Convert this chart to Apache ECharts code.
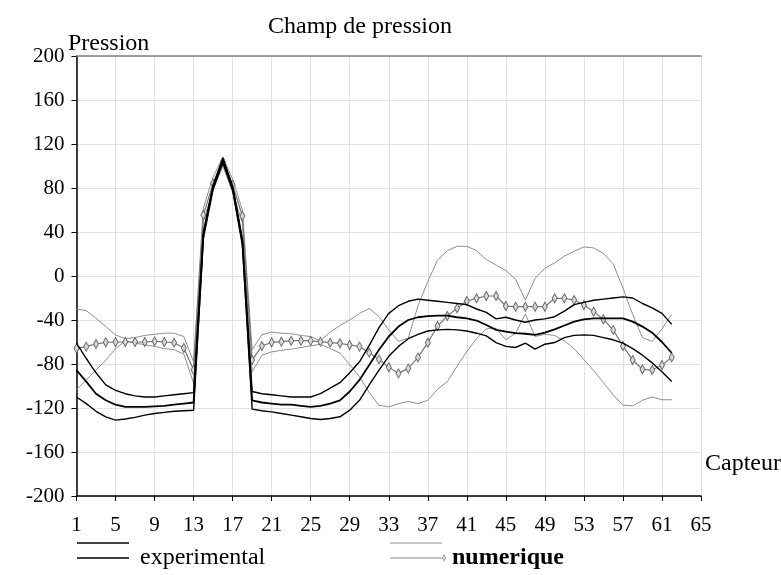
<!DOCTYPE html>
<html>
<head>
<meta charset="utf-8">
<script src="https://cdn.jsdelivr.net/npm/echarts@6/dist/echarts.min.js"></script>
<style>html,body{margin:0;padding:0;background:#fff}#c{width:781px;height:575px}</style>
</head>
<body>
<div id="c"></div>
<script>
const categories = ['1','2','3','4','5','6','7','8','9','10','11','12','13','14','15','16','17','18','19','20','21','22','23','24','25','26','27','28','29','30','31','32','33','34','35','36','37','38','39','40','41','42','43','44','45','46','47','48','49','50','51','52','53','54','55','56','57','58','59','60','61','62','63','64','65'];

const expHi = [-61,-75,-88,-99,-104,-107,-109,-110,-110,-109,-108,-107,-106,40,83,107,82,34,-105,-107,-108,-109,-110,-110,-110,-107,-102,-97,-88,-78,-63,-47,-34,-27,-23,-21,-22,-23,-24,-25,-26,-30,-33,-39,-37.5,-40,-42,-40,-39,-37,-32,-26,-24,-22,-21,-20,-19,-20,-25,-29,-34,-44];

const experimental = [-85.5,-96,-107,-113,-117,-119,-119,-119,-118.5,-118,-117,-116,-115,37,81,105,80,31,-113,-115,-116,-117,-117,-118,-119,-118,-116,-113,-105,-94.5,-81,-67,-55,-46,-40,-37.5,-36.5,-36,-36,-37.5,-38.5,-40.5,-44.5,-49,-50.5,-52,-52.5,-53.5,-51.5,-48.5,-45,-41.5,-39.5,-38.5,-38.5,-38.5,-38.5,-41.5,-46,-51.5,-60,-70];

const expLo = [-110,-116,-123,-128,-131,-130,-128.5,-126.5,-125,-124,-123,-122.5,-122,34,79,103,78,28,-121,-122.5,-123.5,-125,-126.5,-128,-129.5,-130.5,-129.5,-128,-122,-113,-99,-85.5,-73,-64,-57,-53,-50,-49,-48.5,-49,-50,-52,-54.5,-60.5,-64,-65,-61,-66.5,-62,-60.5,-56,-54,-53.5,-54,-56,-58,-61,-66,-72,-79,-87,-96];

const numerique = [-65.8,-64.2,-61.8,-60.3,-60,-60,-60,-60,-59.4,-60,-60.6,-65.5,-85.5,55.5,84.2,104,82.7,54.5,-76.4,-63.6,-60.3,-59.7,-58.8,-58.8,-59,-59.7,-60.6,-61.2,-62.7,-64.2,-69.7,-75.8,-83,-88.5,-84,-74,-60.6,-45.5,-36.4,-29.4,-22.7,-20.3,-18.2,-18.2,-27.3,-27.9,-27.9,-27.9,-27.9,-20.3,-20.3,-21.8,-26.4,-32.4,-39.4,-49,-63.6,-76.4,-84.8,-85.5,-80.9,-74];

const numHi = [-30,-31.5,-38.5,-46,-53.5,-57,-56,-54,-53,-52,-52,-55,-78,62,90,108,88,60,-67,-53.5,-51,-52,-52.5,-54,-55,-59,-51,-45,-40,-34,-29.5,-37,-49,-59.5,-56.5,-27,-5,14.5,23,27,27,23,15,10,5,-3,-22,-2,7,12,18,22.5,26.5,25.5,20.5,11,-11,-35,-56,-59.5,-48,-35];

const numLo = [-103.5,-94.5,-85.5,-76.5,-66,-59,-61,-62.5,-64,-66,-67,-71,-97.5,50,78,100,76,48,-87,-72,-69,-67.5,-66.5,-65,-63.5,-62,-66,-70,-80.5,-91.5,-106,-117.5,-119,-116,-114,-116,-113,-103,-96,-82,-68.5,-57,-48,-47.5,-58,-52,-34.5,-55,-53,-54,-59,-66,-76,-86,-97,-108,-117.5,-118,-113,-110,-112.5,-112.5];

const FONT = 'Liberation Serif';
const chart = echarts.init(document.getElementById('c'), null, {renderer: 'canvas'});

const blackThin = {color: '#000', width: 1.4};
const grayThin = {color: '#8f8f8f', width: 1};
const tStyle = {fontFamily: FONT, fontSize: 24, fontWeight: 'normal', color: '#000'};

chart.setOption({
  animation: false,
  backgroundColor: '#fff',
  title: [
    {text: 'Champ de pression', left: 268, top: 15, padding: 0, textStyle: tStyle},
    {text: 'Pression', left: 68, top: 32, padding: 0, textStyle: tStyle},
    {text: 'Capteur', left: 705, top: 452, padding: 0, textStyle: tStyle}
  ],
  grid: {left: 76.5, right: 80, top: 56, bottom: 79, containLabel: false},
  legend: [
    {data: ['expHi'], left: 77, top: 538, padding: 0, selectedMode: false, itemWidth: 52, itemHeight: 10, icon: 'path://M0,4.3H52V5.7H0Z', formatter: () => '', textStyle: {fontSize: 1}},
    {data: ['experimental'], left: 77, top: 546, padding: 0, selectedMode: false, itemWidth: 52, itemHeight: 10, icon: 'path://M0,4.3H52V5.7H0Z', textStyle: {fontFamily: FONT, fontSize: 24, color: '#000', padding: [0, 0, 0, 6]}},
    {data: ['numHi'], left: 390, top: 538, padding: 0, selectedMode: false, itemWidth: 52, itemHeight: 10, icon: 'path://M0,4.5H52V5.5H0Z', formatter: () => '', textStyle: {fontSize: 1}},
    {data: ['numerique'], left: 390, top: 546, padding: 0, selectedMode: false, itemWidth: 56, itemHeight: 10,
      icon: 'path://M0,4.5H51V5.5H0Z M51,5L53,1.5L55,5L53,8.5Z M52,5L53,7L54,5L53,3Z',
      itemStyle: {color: '#8a8a8a', borderColor: '#8a8a8a', borderWidth: 0},
      lineStyle: {width: 0},
      textStyle: {fontFamily: FONT, fontSize: 24, fontWeight: 'bold', color: '#000', padding: [0, 0, 0, 1]}}
  ],
  xAxis: [
    {
      type: 'category', data: categories, boundaryGap: false,
      axisLine: {onZero: false, lineStyle: {color: '#000', width: 1.5}},
      axisTick: {show: true, interval: 3, length: 5, lineStyle: {color: '#000'}},
      axisLabel: {interval: 3, margin: 19, fontFamily: FONT, fontSize: 21, color: '#000'},
      splitLine: {show: true, interval: 3, lineStyle: {color: '#e2e2e2', width: 1}}
    },
    {
      type: 'category', data: categories, boundaryGap: false, position: 'top',
      axisLine: {onZero: false, lineStyle: {color: '#808080', width: 1.5}},
      axisTick: {show: false}, axisLabel: {show: false}, splitLine: {show: false}
    }
  ],
  yAxis: {
    type: 'value', min: -200, max: 200, interval: 40,
    axisLine: {show: true, onZero: false, lineStyle: {color: '#000', width: 1.5}},
    axisTick: {show: true, length: 5, lineStyle: {color: '#000'}},
    axisLabel: {margin: 12, fontFamily: FONT, fontSize: 21, color: '#000'},
    splitLine: {show: true, lineStyle: {color: '#e2e2e2', width: 1}}
  },
  series: [
    {name: 'numHi', type: 'line', data: numHi, symbol: 'none', color: '#8f8f8f', lineStyle: grayThin, z: 2},
    {name: 'numLo', type: 'line', data: numLo, symbol: 'none', color: '#8f8f8f', lineStyle: grayThin, z: 2},
    {name: 'numerique', type: 'line', data: numerique, symbol: 'diamond', symbolSize: [5, 9], showSymbol: true, showAllSymbol: true,
      color: '#777', lineStyle: {color: '#777', width: 1.2}, itemStyle: {color: '#d8d8d8', borderColor: '#666', borderWidth: 1}, z: 3},
    {name: 'expHi', type: 'line', data: expHi, symbol: 'none', color: '#000', lineStyle: blackThin, z: 4},
    {name: 'experimental', type: 'line', data: experimental, symbol: 'none', color: '#000', lineStyle: {color: '#000', width: 1.8}, z: 4},
    {name: 'expLo', type: 'line', data: expLo, symbol: 'none', color: '#000', lineStyle: blackThin, z: 4}
  ]
});
</script>
</body>
</html>
